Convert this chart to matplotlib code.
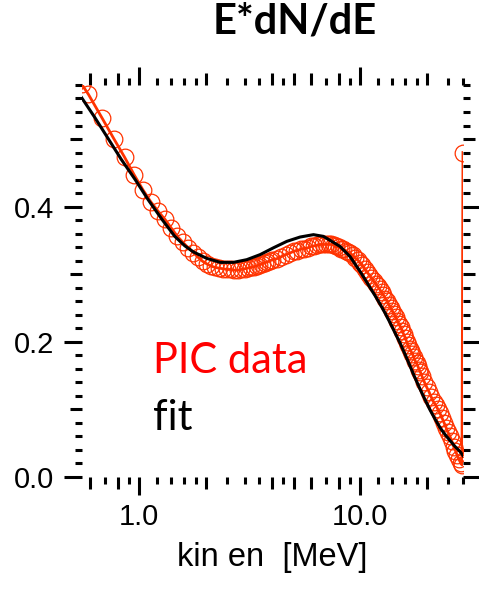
import matplotlib
matplotlib.use("Agg")
import matplotlib.pyplot as plt
from matplotlib.ticker import FixedLocator, NullFormatter

# PIC energy spectrum (E*dN/dE) and the fitted curve
pic_energy = [0.55, 0.59, 0.68, 0.77, 0.86, 0.95, 1.04, 1.13, 1.22, 1.31, 1.40, 1.49,
              1.58, 1.67, 1.76, 1.85, 1.94, 2.03, 2.12, 2.21, 2.30, 2.4, 2.5, 2.6,
              2.7, 2.8, 2.9, 3.0, 3.1, 3.2, 3.3, 3.4, 3.5, 3.6, 3.7, 3.8, 3.9, 4.0,
              4.2, 4.4, 4.6, 4.8, 5.0, 5.2, 5.4, 5.6, 5.8, 6.0, 6.2, 6.4, 6.6, 6.8,
              7.0, 7.2, 7.4, 7.6, 7.8, 8.0, 8.2, 8.4, 8.6, 8.8, 9.0, 9.25, 9.5, 9.75,
              10.0, 10.25, 10.5, 10.75, 11.0, 11.25, 11.5, 11.75, 12.0, 12.25, 12.5,
              12.75, 13.0, 13.25, 13.5, 13.75, 14.0, 14.25, 14.5, 14.75, 15.0, 15.25,
              15.5, 15.75, 16.0, 16.25, 16.5, 16.75, 17.0, 17.25, 17.5, 17.75, 18.0,
              18.25, 18.5, 18.75, 19.0, 19.5, 20.0, 20.5, 21.0, 21.5, 22.0, 22.5,
              23.0, 23.5, 24.0, 24.5, 25.0, 25.5, 26.0, 26.5, 27.0, 27.5, 28.0, 28.5,
              28.9, 29.2]
pic_value = [0.581, 0.566, 0.531, 0.500, 0.473, 0.447, 0.425, 0.407, 0.393, 0.381, 0.368, 0.356,
             0.347, 0.339, 0.332, 0.325, 0.319, 0.315, 0.312, 0.310, 0.309, 0.308, 0.307, 0.307,
             0.306, 0.306, 0.307, 0.308, 0.309, 0.310, 0.311, 0.312, 0.314, 0.315, 0.317, 0.318, 0.320, 0.321,
             0.323, 0.326, 0.329, 0.331, 0.334, 0.335, 0.337, 0.338, 0.339, 0.341, 0.342, 0.343, 0.344, 0.344,
             0.344, 0.344, 0.344, 0.343, 0.341, 0.340, 0.338, 0.337, 0.335, 0.333, 0.331, 0.328, 0.324, 0.321,
             0.317, 0.313, 0.308, 0.303, 0.299, 0.294, 0.290, 0.286, 0.282, 0.278, 0.273,
             0.269, 0.264, 0.260, 0.255, 0.250, 0.245, 0.241, 0.236, 0.231, 0.226, 0.222,
             0.216, 0.211, 0.206, 0.200, 0.195, 0.190, 0.186, 0.182, 0.177, 0.172, 0.168,
             0.164, 0.159, 0.155, 0.150, 0.141, 0.133, 0.126, 0.118, 0.111, 0.106, 0.100,
             0.094, 0.087, 0.080, 0.073, 0.066, 0.060, 0.053, 0.045, 0.039, 0.032, 0.026, 0.021,
             0.018, 0.480]

fit_energy = [0.55, 0.63, 0.72, 0.83, 0.96, 1.10, 1.27, 1.45, 1.61, 1.76, 2.02, 2.33,
              2.67, 3.07, 3.53, 4.05, 4.66, 5.35, 6.15, 6.82, 7.32, 8.12, 9.01, 10.0,
              10.5, 11.1, 11.7, 12.3, 13.0, 13.67, 14.4, 15.17, 16.0, 16.83, 17.7, 18.68,
              19.7, 20.74, 21.8, 23.0, 24.2, 25.5, 26.9, 28.35, 29.3]
fit_value = [0.561, 0.532, 0.502, 0.470, 0.440, 0.410, 0.381, 0.356, 0.342, 0.333, 0.3235, 0.3175,
             0.3175, 0.3215, 0.329, 0.339, 0.3486, 0.355, 0.3585, 0.356, 0.350, 0.341, 0.326, 0.304,
             0.293, 0.280, 0.268, 0.256, 0.242, 0.228, 0.213, 0.198, 0.181, 0.164, 0.147, 0.130,
             0.114, 0.099, 0.086, 0.073, 0.063, 0.054, 0.045, 0.0375, 0.031]

# tick levels: long (labelled), medium, short
x_major = [1.0, 10.0]
x_major_labels = ['1.0', '10.0']
x_medium = [0.6, 0.8, 2, 4, 5, 6, 8, 20]
x_short = [0.7, 0.9, 1.2, 1.4, 1.6, 1.8, 2.5, 3, 3.5, 4.5, 7, 9, 12, 14, 16, 18, 25, 29.3]
y_major = [0.0, 0.2, 0.4]
y_major_labels = ['0.0', '0.2', '0.4']
y_medium = [0.1, 0.3, 0.5]
y_short = [0.02, 0.04, 0.06, 0.08, 0.12, 0.14, 0.16, 0.18, 0.22, 0.24, 0.26, 0.28,
           0.32, 0.34, 0.36, 0.38, 0.42, 0.44, 0.46, 0.48, 0.52, 0.54, 0.56, 0.58]

data_color = '#ff3300'
axis_font = 'Liberation Sans'
note_font = ['Lato', 'DejaVu Sans']

fig = plt.figure(figsize=(4.79, 5.92), dpi=100)
ax = fig.add_axes([0.1706, 0.1943, 0.7966, 0.6622])

ax.plot(pic_energy, pic_value, color=data_color, lw=2.0, zorder=2)
ax.plot(pic_energy, pic_value, ls='none', marker='o', ms=12, mfc='none',
        mec=data_color, mew=0.9, zorder=2)
ax.plot(fit_energy, fit_value, color='black', lw=2.2, zorder=3)

ax.set_xscale('log')
ax.set_xlim(0.55, 29.3)
ax.set_ylim(0, 0.58)

for s in ax.spines.values():
    s.set_visible(False)

ax.xaxis.set_major_locator(FixedLocator(x_major))
ax.set_xticklabels(x_major_labels)
x_minor = sorted(x_medium + x_short)
ax.xaxis.set_minor_locator(FixedLocator(x_minor))
ax.xaxis.set_minor_formatter(NullFormatter())

ax.yaxis.set_major_locator(FixedLocator(y_major))
ax.set_yticklabels(y_major_labels)
y_minor = sorted(y_medium + y_short)
ax.yaxis.set_minor_locator(FixedLocator(y_minor))
ax.yaxis.set_minor_formatter(NullFormatter())

ax.tick_params(which='both', direction='out', top=True, right=True, width=2.2)
ax.tick_params(which='major', length=13)
ax.tick_params(which='minor', length=5)
ax.tick_params(axis='x', which='major', pad=6)
ax.tick_params(axis='y', which='major', pad=7)

# medium-length minor ticks
for tick, loc in zip(ax.xaxis.get_minor_ticks(len(x_minor)), x_minor):
    if loc in x_medium:
        tick.tick1line.set_markersize(8.6)
        tick.tick2line.set_markersize(8.6)
for tick, loc in zip(ax.yaxis.get_minor_ticks(len(y_minor)), y_minor):
    if loc in y_medium:
        tick.tick1line.set_markersize(8.6)
        tick.tick2line.set_markersize(8.6)

for lbl in ax.get_xticklabels() + ax.get_yticklabels():
    lbl.set_fontfamily(axis_font)
    lbl.set_fontsize(21)

ax.set_xlabel('kin en  [MeV]', fontfamily=axis_font, fontsize=23.5, labelpad=8)

fig.text(0.616, 0.9437, 'E*dN/dE', ha='center', va='baseline',
         fontfamily=note_font, fontweight='bold', fontsize=30)
fig.text(0.3194, 0.3694, 'PIC data', ha='left', va='baseline',
         fontfamily=note_font, fontsize=30, color='#ff0000')
fig.text(0.3194, 0.2736, 'fit', ha='left', va='baseline',
         fontfamily=note_font, fontsize=30, color='black')

plt.savefig('out.png', dpi=100)
plt.close()
